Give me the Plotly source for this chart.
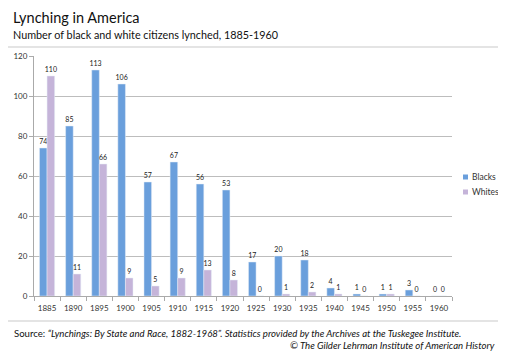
import plotly.graph_objects as go

years = ["1885", "1890", "1895", "1900", "1905", "1910", "1915", "1920",
         "1925", "1930", "1935", "1940", "1945", "1950", "1955", "1960"]
blacks = [74, 85, 113, 106, 57, 67, 56, 53, 17, 20, 18, 4, 1, 1, 3, 0]
whites = [110, 11, 66, 9, 5, 9, 13, 8, 0, 1, 2, 1, 0, 1, 0, 0]
y_ticks = [0, 20, 40, 60, 80, 100, 120]
series_names = ["Blacks", "Whites"]

FONT = "Lato, 'Open Sans', sans-serif"
BLUE = "#6a9fdc"
PURPLE = "#c5b4d9"
W, H = 506, 357
OFF = 8  # page body margin offset
# target plot area in reference page pixels
PL, PR, PT, PB = 34, 452, 56, 296
L, T = PL - OFF, PT - OFF
R, B = W - (PR - OFF), H - (PB - OFF)
pw, ph = PR - PL, PB - PT

def px(x):
    return (x - PL) / pw

def py(y):
    return (PB - y) / ph

fig = go.Figure()
fig.add_trace(go.Bar(name=series_names[0], x=years, y=blacks, marker_color=BLUE,
                     text=blacks, textposition="outside", constraintext="none",
                     textfont=dict(size=7, color="#222"), cliponaxis=False))
fig.add_trace(go.Bar(name=series_names[1], x=years, y=whites, marker_color=PURPLE,
                     text=whites, textposition="outside", constraintext="none",
                     textfont=dict(size=7, color="#222"), cliponaxis=False))

shapes = [dict(type="rect", xref="paper", yref="paper",
               x0=px(5), x1=px(500), y0=py(321), y1=py(47),
               line=dict(color="#dcdcdc", width=1.5), layer="below")]
annotations = [
    dict(text="Lynching in America", xref="paper", yref="paper",
         x=px(11), y=py(18), xanchor="left", yanchor="middle",
         showarrow=False, font=dict(size=14.5, color="#111", family=FONT)),
    dict(text="Number of black and white citizens lynched, 1885-1960",
         xref="paper", yref="paper", x=px(11), y=py(34),
         xanchor="left", yanchor="middle", showarrow=False,
         font=dict(size=10.8, color="#111", family=FONT)),
    dict(text="Source: <i>\u201cLynchings: By State and Race, 1882-1968\u201d. Statistics provided by the Archives at the Tuskegee Institute.</i>",
         xref="paper", yref="paper", x=px(12), y=py(333),
         xanchor="left", yanchor="middle", showarrow=False,
         font=dict(size=9.6, color="#111", family=FONT)),
    dict(text="<i>\u00a9 The Gilder Lehrman Institute of American History</i>",
         xref="paper", yref="paper", x=px(497), y=py(345),
         xanchor="right", yanchor="middle", showarrow=False,
         font=dict(size=9.6, color="#111", family=FONT)),
]
# compact legend (small swatches, close labels)
for i, (name, col) in enumerate(zip(series_names, (BLUE, PURPLE))):
    yc = 177 + 15 * i
    shapes.append(dict(type="rect", xref="paper", yref="paper",
                       x0=px(463), x1=px(468), y0=py(yc + 2.5), y1=py(yc - 2.5),
                       fillcolor=col, line=dict(width=0)))
    annotations.append(dict(text=name, xref="paper", yref="paper",
                            x=px(470), y=py(yc), xanchor="left", yanchor="middle",
                            showarrow=False,
                            font=dict(size=8.5, color="#333", family=FONT)))

fig.update_layout(
    width=W, height=H, margin=dict(l=L, r=R, t=T, b=B, autoexpand=False),
    paper_bgcolor="white", plot_bgcolor="white",
    barmode="group", bargap=0.42, bargroupgap=0,
    font=dict(family=FONT, color="#222"),
    showlegend=False,
    xaxis=dict(type="category", tickfont=dict(size=8, color="#333"), tickangle=0,
               showline=True, linecolor="#aaa", linewidth=1, automargin=False,
               ticks="outside", ticklen=4, tickcolor="#aaa", ticklabelstandoff=4,
               tickson="boundaries", showgrid=False),
    yaxis=dict(range=[0, 120], tickvals=y_ticks, tickfont=dict(size=8, color="#333"),
               showline=True, linecolor="#aaa", linewidth=1, automargin=False,
               ticks="outside", ticklen=4, tickcolor="#aaa",
               showgrid=True, gridcolor="#bdbdbd", gridwidth=1, zeroline=False),
    shapes=shapes,
    annotations=annotations,
)

fig.write_html("out.html")
